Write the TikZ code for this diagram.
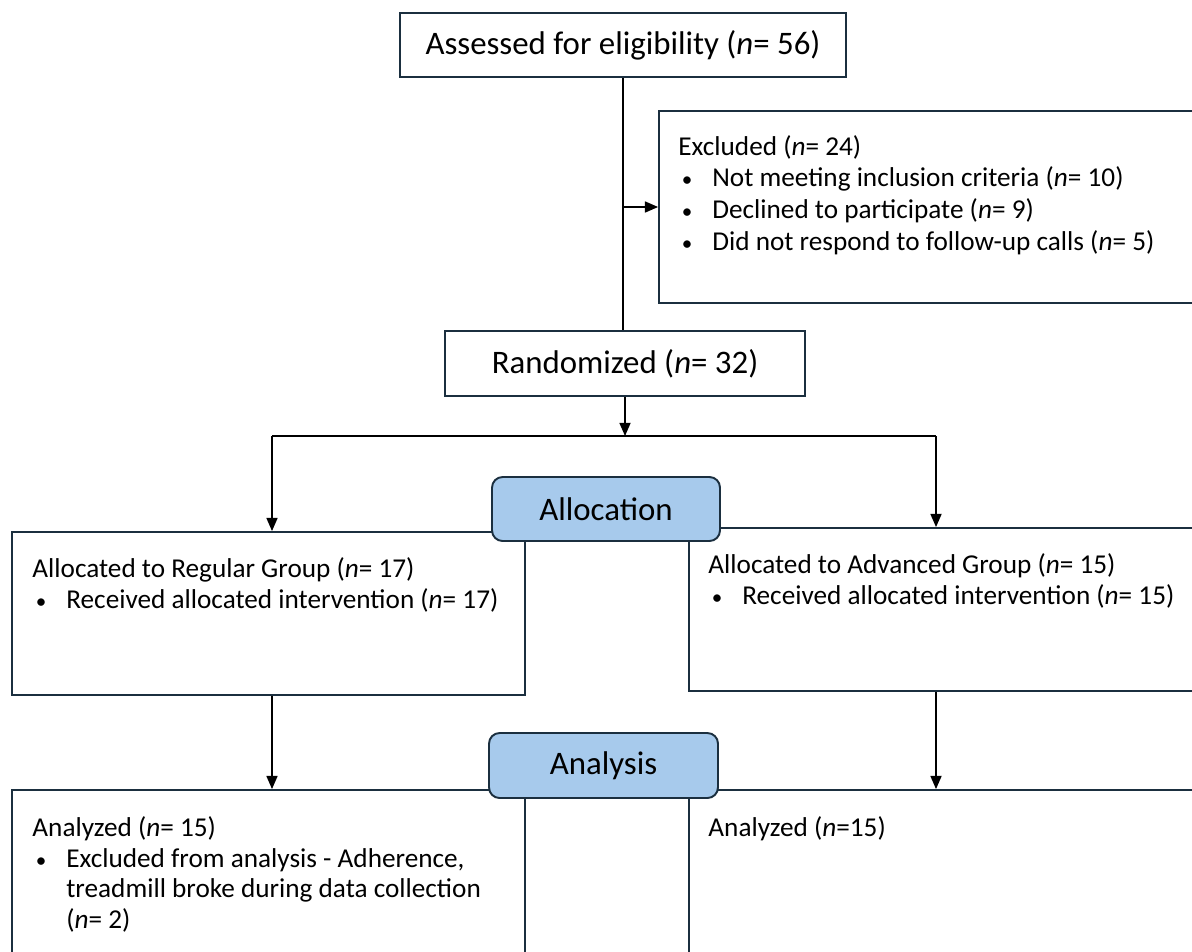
\documentclass[tikz,border=0pt]{standalone}
\usepackage{fontspec}
\setmainfont{Carlito}
\usepackage{xcolor}
\usetikzlibrary{arrows.meta,calc,positioning}
\definecolor{borde}{HTML}{1B2F3F}
\definecolor{azulfase}{HTML}{A7CAEC}
\newcommand{\vin}{\hspace*{2pt}\makebox[17.3pt][l]{\fontsize{12}{18}\selectfont\textbullet}}
\newcommand{\sang}{\hspace*{19.3pt}}
\tikzset{
  caja/.style={draw=borde,line width=1.1pt,fill=white,inner sep=0pt},
  titulo/.style={caja,font=\fontsize{18.7}{20}\selectfont},
  fase/.style={draw=borde,line width=1.1pt,fill=azulfase,rounded corners=6pt,
    minimum width=4.56cm,minimum height=1.28cm,font=\fontsize{18.7}{20}\selectfont},
  texto/.style={anchor=north west,inner sep=0pt,align=left,font=\fontsize{15.5}{18}\selectfont},
  flecha/.style={-{Triangle[length=7.5pt,width=6.3pt]},line width=0.85pt},
  linea/.style={line width=0.85pt}
}
\begin{document}
\begin{tikzpicture}[x=0.02cm,y=-0.02cm]
\useasboundingbox (0,0) rectangle (1192,951);
\clip (0,0) rectangle (1192,951);
\fill[white] (0,0) rectangle (1192,951);
% cajas principales
\node[titulo,minimum width=8.92cm,minimum height=1.28cm] (eleg) at (623,45) {Assessed for eligibility (\textit{n}= 56)};
\node[caja,minimum width=11.02cm,minimum height=3.84cm] (excl) at (934.5,207) {};
\node[texto] (excltxt) at ([shift={(20,25)}]excl.north west) {Excluded (\textit{n}= 24)\\
\vin Not meeting inclusion criteria (\textit{n}= 10)\\
\vin Declined to participate (\textit{n}= 9)\\
\vin Did not respond to follow-up calls (\textit{n}= 5)};
\node[titulo,minimum width=7.2cm,minimum height=1.3cm] (rand) at (625,363.5) {Randomized (\textit{n}= 32)};
% grupos
\node[caja,minimum width=10.26cm,minimum height=3.26cm] (regular) at (268.5,613.5) {};
\node[texto] (regtxt) at ([shift={(21,26)}]regular.north west) {Allocated to Regular Group (\textit{n}= 17)\\
\vin Received allocated intervention (\textit{n}= 17)};
\node[caja,minimum width=10.42cm,minimum height=3.26cm] (avanz) at (949.5,609.5) {};
\node[texto] (avtxt) at ([shift={(20,26)}]avanz.north west) {Allocated to Advanced Group (\textit{n}= 15)\\
\vin Received allocated intervention (\textit{n}= 15)};
\node[caja,minimum width=10.26cm,minimum height=3.6cm] (anreg) at (268.5,880) {};
\node[texto,font=\fontsize{15.5}{17.5}\selectfont] (anregtxt) at ([shift={(21,27)}]anreg.north west) {Analyzed (\textit{n}= 15)\\
\vin Excluded from analysis - Adherence,\\
\sang treadmill broke during data collection\\
\sang (\textit{n}= 2)};
\node[caja,minimum width=10.42cm,minimum height=3.6cm] (anav) at (949.5,880) {};
\node[texto] (anavtxt) at ([shift={(20,27)}]anav.north west) {Analyzed (\textit{n}=15)};
% fases
\node[fase] (asig) at (606,509) {Allocation};
\node[fase,minimum width=4.58cm,minimum height=1.3cm] (anal) at (603.5,765.5) {Analysis};
% conectores
\coordinate (rama) at (eleg.south |- excl.west);
\coordinate (div) at (rand.south |- 0,436);
\coordinate (izq) at (272,436);
\coordinate (der) at (936,436);
\draw[linea] (eleg.south) -- (eleg.south |- rand.north);
\draw[flecha] (rama) -- (excl.west);
\draw[flecha] (rand.south) -- (div);
\draw[linea] (izq) -- (der);
\draw[flecha] (izq) -- (izq |- regular.north);
\draw[flecha] (der) -- (der |- avanz.north);
\draw[flecha] (regular.south -| izq) -- (izq |- anreg.north);
\draw[flecha] (avanz.south -| der) -- (der |- anav.north);
\end{tikzpicture}
\end{document}
